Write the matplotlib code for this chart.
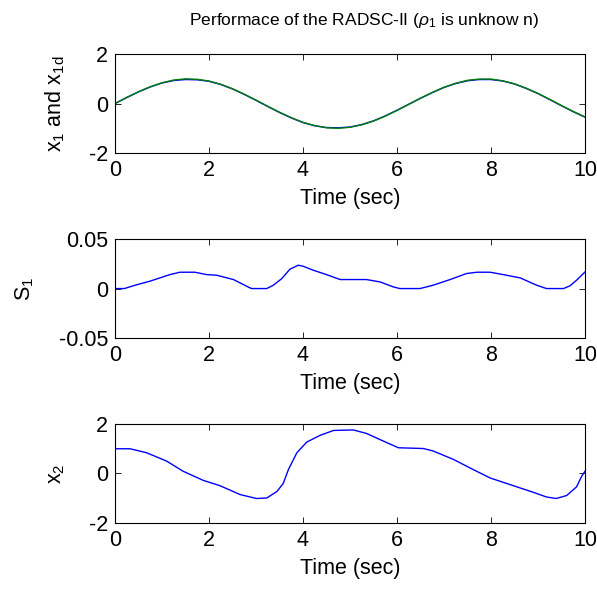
import numpy as np
import matplotlib
matplotlib.use("Agg")
import matplotlib.pyplot as plt

plt.rcParams['font.family'] = ['Liberation Sans', 'DejaVu Sans']
plt.rcParams['mathtext.fontset'] = 'custom'
plt.rcParams['mathtext.rm'] = 'Liberation Sans'
plt.rcParams['mathtext.it'] = 'Liberation Sans:italic'
plt.rcParams['axes.unicode_minus'] = False

# panel 1: desired and actual x1
t1 = np.arange(0, 10.01, 0.25)
x1d = [0.00, 0.25, 0.48, 0.68, 0.84, 0.95, 1.00, 0.98, 0.91, 0.78, 0.60,
       0.38, 0.14, -0.11, -0.35, -0.57, -0.76, -0.89, -0.98, -1.00, -0.96,
       -0.86, -0.71, -0.51, -0.28, -0.03, 0.22, 0.45, 0.66, 0.82, 0.94,
       0.99, 0.99, 0.92, 0.80, 0.62, 0.41, 0.17, -0.08, -0.32, -0.54]
x1 = [0.00, 0.24, 0.47, 0.67, 0.83, 0.93, 0.97, 0.96, 0.90, 0.77, 0.59,
      0.37, 0.13, -0.12, -0.36, -0.58, -0.77, -0.90, -0.97, -0.98, -0.95,
      -0.85, -0.70, -0.50, -0.27, -0.03, 0.21, 0.44, 0.65, 0.81, 0.92,
      0.97, 0.97, 0.91, 0.79, 0.61, 0.40, 0.16, -0.09, -0.33, -0.55]

# panel 2: sliding surface S1
t_s = [0.0, 0.20, 0.43, 0.74, 1.17, 1.38, 1.70, 1.95, 2.16, 2.52, 2.87,
       2.91, 3.23, 3.37, 3.55, 3.72, 3.90, 4.00, 4.22, 4.50, 4.79, 5.35,
       5.64, 5.92, 6.06, 6.49, 6.77, 7.13, 7.48, 7.70, 7.98, 8.26, 8.62,
       8.97, 9.18, 9.54, 9.68, 9.82, 10.0]
s1 = [0.0, 0.0, 0.0034, 0.0074, 0.0141, 0.0165, 0.0165, 0.0141, 0.0135,
      0.0091, 0.0007, 0.0, 0.0, 0.0034, 0.0101, 0.0195, 0.0236, 0.0226,
      0.0185, 0.0141, 0.0091, 0.0091, 0.0067, 0.0017, 0.0, 0.0, 0.0034,
      0.0091, 0.0152, 0.0165, 0.0165, 0.0141, 0.0108, 0.0034, 0.0, 0.0,
      0.0027, 0.0084, 0.0168]

# panel 3: x2
t_x2 = [0.0, 0.32, 0.67, 1.10, 1.45, 1.88, 2.23, 2.66, 3.01, 3.23, 3.45,
        3.58, 3.69, 3.87, 4.08, 4.36, 4.65, 5.07, 5.35, 5.71, 6.03, 6.56,
        6.77, 7.20, 7.62, 7.98, 8.55, 8.90, 9.18, 9.39, 9.61, 9.82, 9.93,
        10.0]
x2 = [1.0, 1.0, 0.84, 0.50, 0.09, -0.28, -0.49, -0.85, -1.01, -0.99, -0.72,
      -0.40, 0.16, 0.84, 1.27, 1.54, 1.74, 1.76, 1.62, 1.31, 1.04, 1.01,
      0.91, 0.57, 0.16, -0.18, -0.54, -0.76, -0.95, -1.01, -0.89, -0.54,
      -0.11, 0.09]

fig = plt.figure(figsize=(5.97, 5.89), dpi=100)

left, width, height = 0.1926, 0.7873, 0.168
ax1 = fig.add_axes([left, 0.7402, width, height])
ax2 = fig.add_axes([left, 0.4261, width, height])
ax3 = fig.add_axes([left, 0.1121, width, height])

FS = 15.5

ax1.plot(t1, x1, color='#0000ff', lw=1.0)
ax1.plot(t1, x1d, color='#008000', lw=1.0)
ax1.set_ylim(-2, 2)
ax1.set_yticks([-2, 0, 2])
ax1.set_ylabel(r'x$_\mathrm{1}$ and x$_\mathrm{1d}$', fontsize=FS, labelpad=16)
ax1.set_title(r'Performace of the RADSC-II ($\rho_\mathrm{1}$ is unknow n)',
              fontsize=12.5, pad=21, x=0.53)

ax2.plot(t_s, s1, color='#0000ff', lw=1.0)
ax2.set_ylim(-0.05, 0.05)
ax2.set_yticks([-0.05, 0, 0.05])
ax2.set_yticklabels(['-0.05', '0', '0.05'])
ax2.set_ylabel(r'S$_\mathrm{1}$', fontsize=FS, labelpad=16)

ax3.plot(t_x2, x2, color='#0000ff', lw=1.0)
ax3.set_ylim(-2, 2)
ax3.set_yticks([-2, 0, 2])
ax3.set_ylabel(r'x$_\mathrm{2}$', fontsize=FS, labelpad=16)

for ax in (ax1, ax2, ax3):
    ax.set_xlim(0, 10)
    ax.set_xticks([0, 2, 4, 6, 8, 10])
    ax.set_xlabel('Time (sec)', fontsize=FS, labelpad=5)
    ax.tick_params(direction='in', top=True, right=True, labelsize=FS, length=4, width=0.6, pad=5)
    for sp in ax.spines.values():
        sp.set_linewidth(0.8)

fig.savefig('out.png', dpi=100)
